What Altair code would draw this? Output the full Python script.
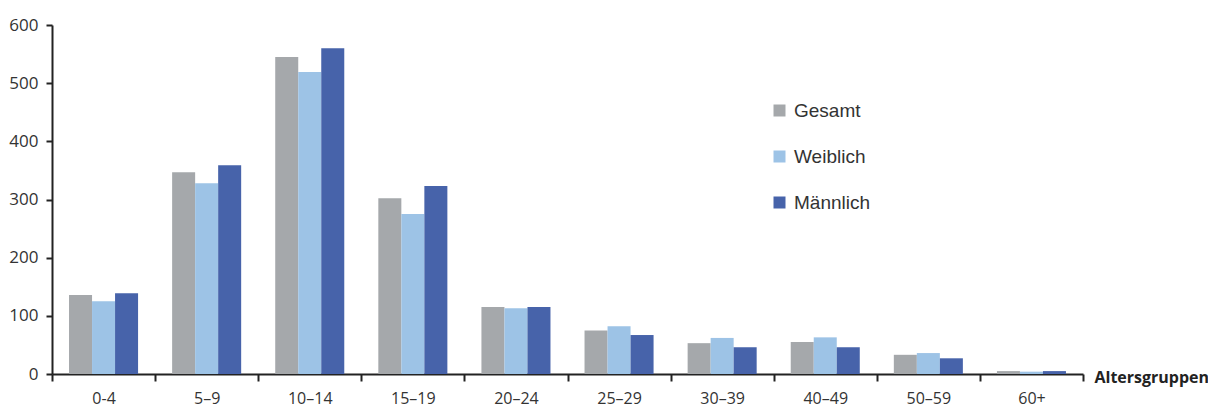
import altair as alt
import pandas as pd

groups = ["0-4", "5–9", "10–14", "15–19", "20–24", "25–29", "30–39", "40–49", "50–59", "60+"]
series = ["Gesamt", "Weiblich", "Männlich"]
gesamt = [136, 347, 545, 302, 115, 75, 53, 55, 33, 5]
weiblich = [125, 328, 519, 275, 113, 82, 62, 63, 36, 4]
maennlich = [139, 359, 560, 323, 115, 67, 46, 46, 27, 5]
colors = ["#A5A8AB", "#9DC3E6", "#4763AA"]

rows = []
for name, vals in zip(series, [gesamt, weiblich, maennlich]):
    for g, v in zip(groups, vals):
        rows.append({"Gruppe": g, "Serie": name, "Wert": v})
df = pd.DataFrame(rows)

chart = alt.Chart(df).mark_bar().encode(
    x=alt.X("Gruppe:N", sort=groups,
            scale=alt.Scale(paddingInner=0, paddingOuter=0),
            axis=alt.Axis(title="Altersgruppen", labelAngle=0, tickBand="extent",
                          tickSize=7, tickWidth=2, tickColor="#222222",
                          domainColor="#222222", domainWidth=2,
                          labelFont="Open Sans", labelFontSize=16, labelColor="#333333",
                          labelPadding=9,
                          titleFont="Open Sans", titleFontSize=16, titleFontWeight="bold",
                          titleColor="#222222", titleAlign="left", titleBaseline="middle",
                          titleX=1042, titleY=3, titleAnchor="start")),
    xOffset=alt.XOffset("Serie:N", sort=series,
                        scale=alt.Scale(paddingInner=0, paddingOuter=0.74)),
    y=alt.Y("Wert:Q", scale=alt.Scale(domain=[0, 600], nice=False),
            axis=alt.Axis(title=None, values=[0, 100, 200, 300, 400, 500, 600], grid=False,
                          tickSize=6, tickWidth=2, tickColor="#222222",
                          domainColor="#222222", domainWidth=2,
                          labelFont="Open Sans", labelFontSize=17, labelColor="#333333",
                          labelPadding=8)),
    color=alt.Color("Serie:N", sort=series,
                    scale=alt.Scale(domain=series, range=colors),
                    legend=alt.Legend(title=None, orient="none", legendX=718, legendY=76,
                                      symbolType="square", symbolSize=144, symbolStrokeWidth=0,
                                      labelFont="Liberation Sans", labelFontSize=19,
                                      labelColor="#333333", rowPadding=26, labelOffset=5)),
).properties(
    width=1031, height=349,
    padding={"left": 44, "top": 17, "right": 125, "bottom": 36},
    autosize=alt.AutoSizeParams(type="none"),
).configure_view(stroke=None)

chart.save("out.html", embed_options={"renderer": "svg", "actions": False})
